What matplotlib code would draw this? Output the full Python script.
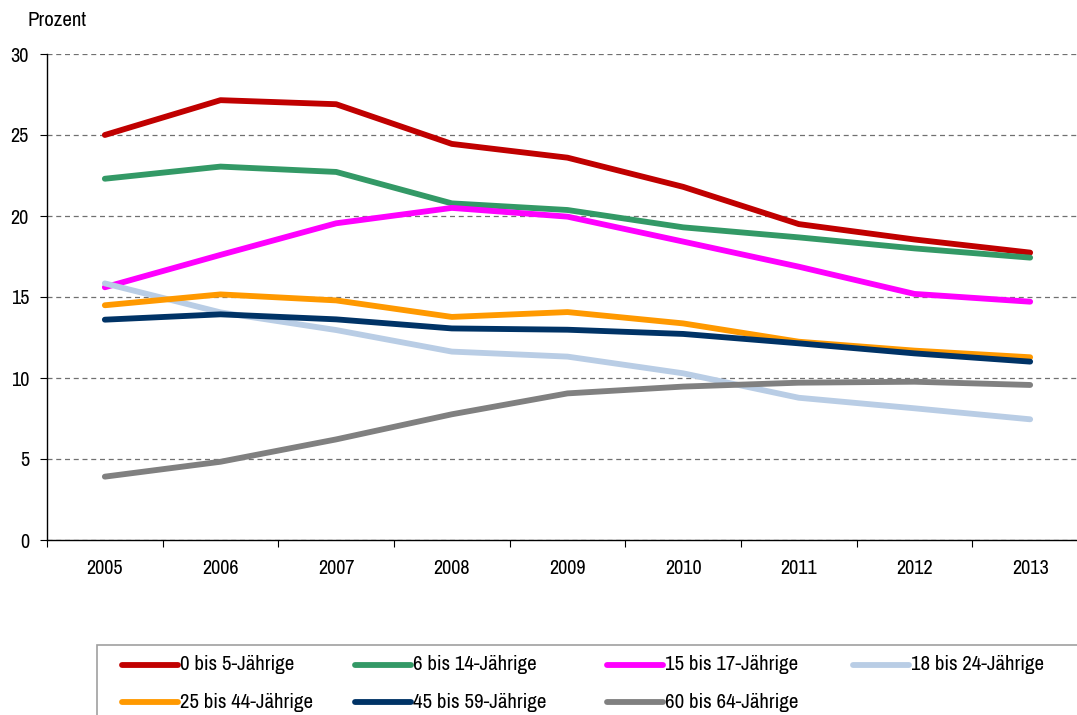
import matplotlib
matplotlib.use("Agg")
import matplotlib.pyplot as plt
from matplotlib.lines import Line2D
from matplotlib.patches import Rectangle
from matplotlib import font_manager

years = ["2005", "2006", "2007", "2008", "2009", "2010", "2011", "2012", "2013"]

s_0_5 = [25.0, 27.15, 26.9, 24.45, 23.6, 21.8, 19.5, 18.55, 17.74]
s_6_14 = [22.3, 23.05, 22.72, 20.78, 20.37, 19.3, 18.68, 18.0, 17.43]
s_15_17 = [15.6, 17.6, 19.55, 20.5, 19.96, 18.42, 16.87, 15.19, 14.71]
s_18_24 = [15.84, 14.05, 12.96, 11.63, 11.32, 10.29, 8.78, 8.13, 7.45]
s_25_44 = [14.49, 15.16, 14.79, 13.77, 14.07, 13.37, 12.24, 11.69, 11.28]
s_45_59 = [13.6, 13.93, 13.62, 13.06, 12.98, 12.72, 12.14, 11.52, 11.01]
s_60_64 = [3.91, 4.83, 6.21, 7.76, 9.05, 9.47, 9.71, 9.77, 9.57]

labels = ["0 bis 5-Jährige", "6 bis 14-Jährige", "15 bis 17-Jährige", "18 bis 24-Jährige",
          "25 bis 44-Jährige", "45 bis 59-Jährige", "60 bis 64-Jährige"]
series = [s_0_5, s_6_14, s_15_17, s_18_24, s_25_44, s_45_59, s_60_64]
colors = ["#C00000", "#339966", "#FF00FF", "#B9CDE5", "#FF9900", "#003366", "#808080"]

names = {f.name for f in font_manager.fontManager.ttflist}
fams = [f for f in ["Liberation Sans Narrow", "Archivo Narrow", "PT Sans Narrow", "Roboto Condensed"] if f in names]
plt.rcParams["font.family"] = fams[:1] + ["Liberation Sans", "DejaVu Sans"]

W, H = 1077, 715
fig = plt.figure(figsize=(W / 100, H / 100), dpi=100)

def fx(px):
    return px / W

def fy(py):
    return 1 - py / H

left, right, top, bottom = 47, 1088, 54, 540
ax = fig.add_axes([fx(left), fy(bottom), fx(right - left), (bottom - top) / H])

x = list(range(len(years)))
for s, c in zip(series, colors):
    ax.plot(x, s, color=c, lw=4.2, solid_capstyle="round", solid_joinstyle="round", zorder=3)

ax.set_xlim(-0.5, len(years) - 0.5)
ax.set_ylim(0, 30)
ax.set_yticks([0, 5, 10, 15, 20, 25, 30])
ax.yaxis.grid(True, linestyle=(0, (4, 3)), color="#707070", lw=0.9)
ax.set_axisbelow(True)
for sp in ["top", "right"]:
    ax.spines[sp].set_visible(False)
ax.spines["left"].set_color("black")
ax.spines["bottom"].set_color("black")
ax.spines["left"].set_linewidth(1.0)
ax.spines["bottom"].set_linewidth(1.0)

ax.set_xticks([i - 0.5 for i in range(len(years) + 1)])
ax.set_xticklabels([])
ax.tick_params(axis="x", which="major", length=5, width=0.8, direction="out", color="black")
ax.set_xticks(x, minor=True)
ax.set_xticklabels(years, minor=True)
ax.tick_params(axis="x", which="minor", length=0, pad=14, labelsize=14.5)
ax.tick_params(axis="y", length=5, width=0.8, pad=8, labelsize=14.5, color="black")

fig.text(fx(28), fy(20), "Prozent", fontsize=15, ha="left", va="center", color="black",
         weight="bold")

# legend frame
fig.add_artist(Rectangle((fx(97), fy(760)), fx(1100 - 97), (760 - 645) / H,
                         transform=fig.transFigure, fill=False, edgecolor="#A0A0A0", lw=1.2))
cols = [122, 355, 607, 853]
rows = [665, 702]
for i, (lab, c) in enumerate(zip(labels, colors)):
    r, k = divmod(i, 4)
    x0 = cols[k]
    y0 = rows[r]
    fig.add_artist(Line2D([fx(x0), fx(x0 + 56)], [fy(y0), fy(y0)], transform=fig.transFigure,
                          color=c, lw=4.2, solid_capstyle="round"))
    fig.text(fx(x0 + 58), fy(y0), lab, fontsize=15, ha="left", va="center", color="black")

fig.savefig("out.png", dpi=100)
